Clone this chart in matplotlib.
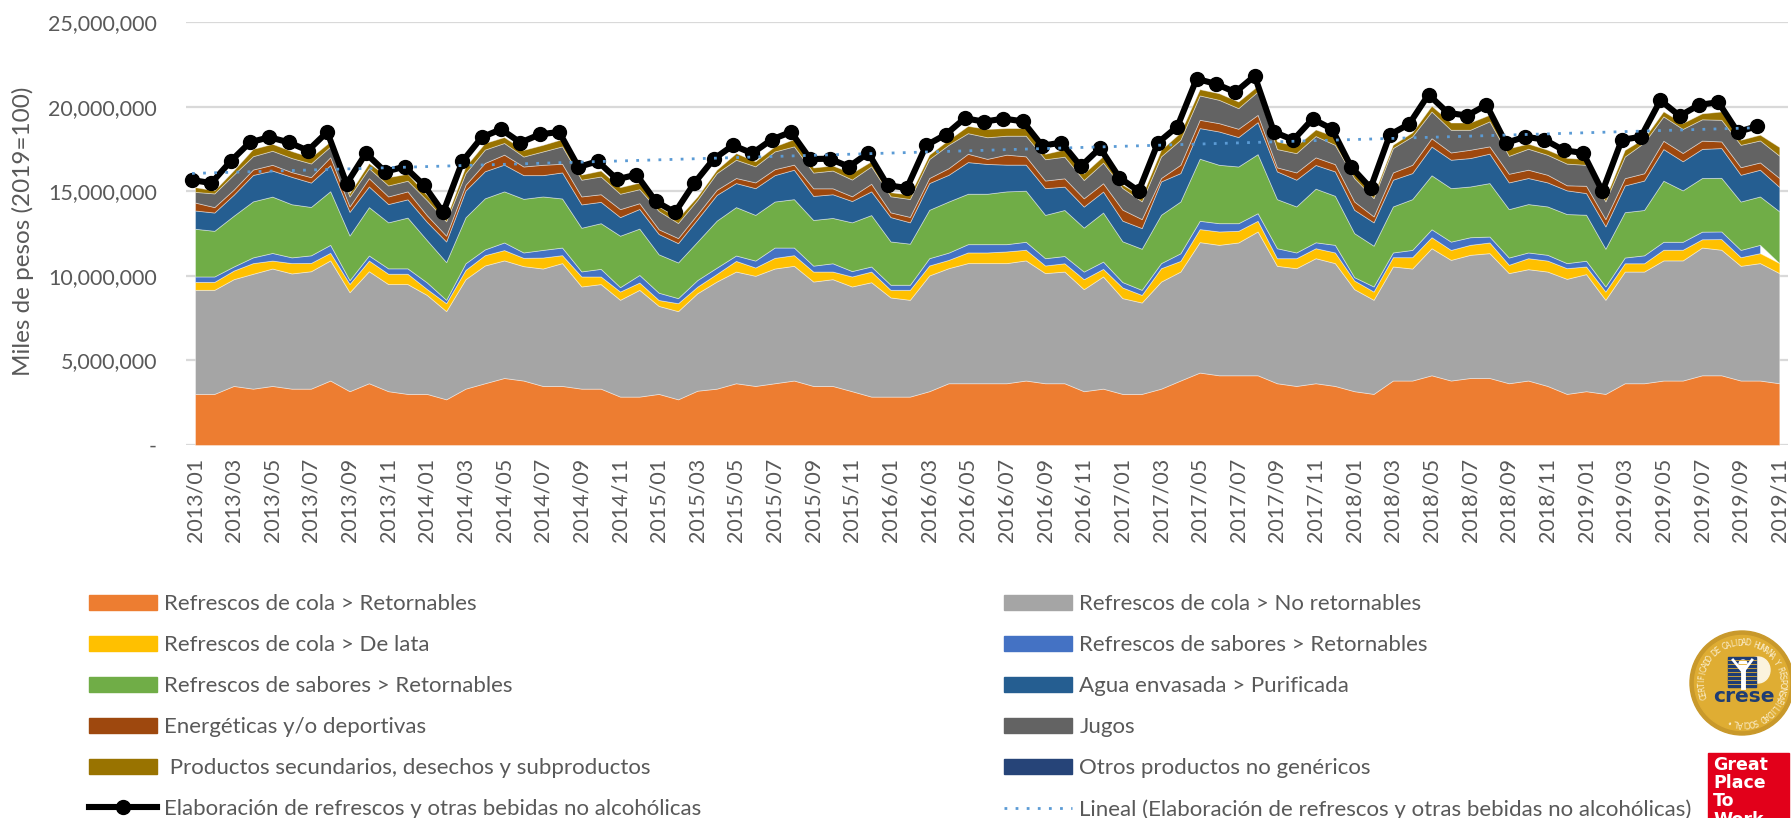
#!/usr/bin/env python
# coding:utf-8
import numpy as np
import matplotlib
matplotlib.use("Agg")
import matplotlib.pyplot as plt
from matplotlib.patches import Circle, Rectangle, Ellipse
from matplotlib.lines import Line2D

# monthly values, millions of pesos
years = range(2013, 2020)
months = [f"{y}/{m:02d}" for y in years for m in range(1, 13)][:83]

cola_ret = [3.02,3.02,3.49,3.33,3.49,3.33,3.33,3.81,3.18,3.65,3.18,3.02,3.02,2.70,3.33,3.65,3.96,3.81,3.49,3.49,3.33,3.33,2.86,2.86,3.02,2.70,
            3.21,3.33,3.65,3.49,3.65,3.81,3.49,3.49,3.18,2.86,2.86,2.86,3.18,3.65,3.65,3.65,3.65,3.81,3.65,3.65,3.18,3.33,3.02,3.02,3.33,3.81,4.28,4.12,
            4.12,4.12,3.65,3.49,3.65,3.49,3.18,3.02,3.81,3.81,4.12,3.81,3.96,3.96,3.65,3.81,3.49,3.02,3.18,3.02,3.65,3.65,3.81,3.81,4.12,4.12,3.81,3.81,3.65]
cola_no_ret = [6.15,6.15,6.31,6.79,6.94,6.81,6.94,7.10,5.85,6.62,6.33,6.49,5.85,5.21,6.47,6.96,6.95,6.76,6.94,7.26,6.04,6.18,5.72,6.31,5.20,5.21,
               5.76,6.33,6.60,6.51,6.78,6.78,6.17,6.31,6.19,6.76,5.86,5.72,6.84,6.80,7.10,7.10,7.10,7.10,6.51,6.60,6.03,6.63,5.66,5.40,6.33,6.44,7.71,7.71,
               7.85,8.50,6.94,6.96,7.39,7.26,6.03,5.56,6.74,6.62,7.51,7.13,7.28,7.38,6.51,6.58,6.76,6.80,6.92,5.56,6.60,6.60,7.10,7.10,7.55,7.42,6.78,6.94,6.51]
cola_lata = [.47,.47,.51,.63,.47,.61,.49,.45,.49,.63,.61,.61,.35,.47,.55,.61,.61,.49,.65,.47,.59,.45,.49,.43,.35,.47,.39,.45,.63,.49,.63,.63,.59,.45,.59,.63,.45,.59,.59,.49,.63,.63,
             .69,.63,.45,.49,.59,.45,.63,.45,.79,.63,.77,.79,.69,.63,.45,.59,.59,.63,.51,.49,.55,.67,.65,.59,.59,.63,.49,.65,.65,.63,.45,.49,.49,.49,.63,.63,.49,.63,.51,.59,.59]
sabores_ret_a = [.32,.32,.24,.34,.45,.34,.45,.47,.22,.30,.32,.32,.39,.20,.39,.34,.45,.32,.45,.45,.30,.45,.26,.45,.43,.30,.39,.37,.32,.41,.61,.45,.35,.49,.32,.30,.30,.30,.43,.43,.49,.49,
                 .43,.47,.43,.43,.45,.43,.32,.30,.30,.45,.49,.49,.45,.45,.59,.34,.35,.45,.20,.30,.28,.43,.47,.49,.45,.35,.43,.34,.34,.30,.34,.30,.34,.47,.47,.47,.45,.45,.43,.49,np.nan]
sabores_ret_b = [2.82,2.70,3.00,3.31,3.33,3.14,2.86,3.17,2.64,2.86,2.72,3.00,2.50,2.23,2.72,3.02,3.02,3.17,3.16,2.90,2.58,2.70,3.04,2.74,2.27,2.11,2.27,2.78,2.86,2.70,2.72,2.86,2.70,2.68,2.88,3.04,2.56,2.43,2.86,3.02,2.98,2.98,
                 3.12,3.02,2.56,2.72,2.60,2.90,2.41,2.43,2.86,3.06,3.67,3.45,3.35,3.49,2.90,2.72,3.17,2.90,2.60,2.41,2.72,3.00,3.19,3.16,3.00,3.16,2.86,2.86,2.86,2.90,2.72,2.23,2.68,2.68,3.61,3.04,3.17,3.17,2.86,2.86,3.06]
agua = [1.08,1.08,1.24,1.56,1.54,1.62,1.44,1.54,1.40,1.22,1.08,1.08,1.08,1.22,1.58,1.60,1.58,1.40,1.26,1.54,1.38,1.26,1.10,1.16,1.20,1.14,1.32,1.52,1.42,1.58,1.56,1.74,1.42,1.40,1.26,1.40,1.44,1.26,1.58,1.58,1.87,1.76,
        1.58,1.54,1.58,1.38,1.24,1.24,1.22,1.22,1.97,1.68,1.81,1.97,1.74,1.89,1.64,1.58,1.40,1.44,1.38,1.38,1.58,1.54,1.70,1.68,1.68,1.74,1.58,1.54,1.42,1.40,1.28,1.32,1.58,1.74,1.87,1.72,1.72,1.76,1.58,1.58,1.44]
energeticas = [.47,.32,.30,.32,.34,.28,.32,.47,.32,.49,.45,.47,.39,.34,.34,.49,.59,.51,.61,.51,.47,.45,.47,.34,.28,.30,.30,.30,.30,.34,.35,.30,.45,.35,.28,.45,.28,.32,.30,.39,.49,.30,
               .59,.49,.45,.49,.49,.49,.65,.53,.20,.49,.49,.49,.49,.43,.24,.43,.45,.43,.49,.35,.43,.49,.49,.43,.49,.43,.51,.49,.45,.30,.43,.43,.43,.43,.49,.49,.49,.39,.45,.43,.53]
jugos = [.63,.81,.89,.79,.83,.83,.81,.63,.59,.59,.65,.63,.89,.85,.69,.79,.69,.59,.79,1.03,.99,1.05,.91,.83,1.08,.89,.85,.99,1.08,.95,1.05,1.08,.93,1.05,.99,1.03,.95,1.06,1.12,1.38,1.22,1.28,
         1.12,1.22,1.26,1.28,1.08,1.22,1.28,1.05,1.28,1.48,1.44,1.38,1.22,1.38,1.08,1.14,1.26,1.14,1.38,1.08,1.44,1.68,1.58,1.34,1.18,1.48,1.06,1.24,1.18,1.28,1.24,1.05,1.28,1.81,1.44,1.42,1.26,1.28,1.32,1.30,1.32]
secundarios = [.28,.18,.26,.43,.41,.41,.37,.30,.20,.30,.49,.41,.30,.20,.39,.39,.35,.39,.39,.43,.30,.35,.39,.39,.26,.30,.20,.20,.39,.30,.30,.43,.30,.30,.39,.30,.24,.26,.26,.30,.43,.49,
               .45,.45,.32,.43,.39,.39,.20,.30,.39,.43,.37,.39,.39,.34,.45,.43,.39,.49,.30,.20,.20,.24,.34,.43,.43,.39,.45,.30,.30,.34,.34,.20,.39,.26,.30,.35,.35,.49,.30,.34,.51]
# line stops one month before the areas
total = [15.66,15.48,16.77,17.89,18.19,17.89,17.40,18.50,15.44,17.24,16.15,16.45,15.36,13.75,16.77,18.19,18.66,17.87,18.36,18.50,16.43,16.77,15.70,15.98,14.40,13.75,15.48,
         16.90,17.71,17.24,18.05,18.50,16.90,16.92,16.45,17.26,15.35,15.19,17.71,18.34,19.31,19.11,19.29,19.13,17.69,17.87,16.47,17.55,15.80,15.01,17.87,18.82,21.64,21.34,20.85,21.81,
         18.50,18.03,19.27,18.68,16.43,15.19,18.34,18.97,20.71,19.63,19.47,20.10,17.85,18.22,18.05,17.42,17.26,14.99,18.03,18.22,20.37,19.45,20.10,20.26,18.50,18.84]
# trend line ends as they read on the picture
trend_ends = [16.05, 18.75]

series = [cola_ret, cola_no_ret, cola_lata, sabores_ret_a, sabores_ret_b, agua, energeticas, jugos, secundarios]
colors = ["#ED7D31", "#A5A5A5", "#FFC000", "#4472C4", "#70AD47", "#255E91", "#9E480E", "#636363", "#997300"]
left_labels = ["Refrescos de cola > Retornables", "Refrescos de cola > De lata", "Refrescos de sabores > Retornables",
               "Energéticas y/o deportivas", " Productos secundarios, desechos y subproductos",
               "Elaboración de refrescos y otras bebidas no alcohólicas"]
right_labels = ["Refrescos de cola > No retornables", "Refrescos de sabores > Retornables", "Agua envasada > Purificada",
                "Jugos", "Otros productos no genéricos", "Lineal (Elaboración de refrescos y otras bebidas no alcohólicas)"]

plt.rcParams['font.family'] = ['Lato', 'DejaVu Sans']
GREY = "#595959"

fig = plt.figure(figsize=(17.91, 8.18), dpi=100)
ax = fig.add_axes([186/1791, 1-445/818, 1602/1791, 423/818])

x = np.arange(len(months))
bottom = np.zeros(len(months))
for vals, col in zip(series, colors):
    v = np.array(vals) * 1e6
    top = bottom + np.nan_to_num(v)
    # a blank month leaves a gap in its own band only
    ax.fill_between(x, bottom, np.where(np.isnan(v), np.nan, top), color=col, lw=0.6,
                    edgecolor=(1, 1, 1, 0.45), zorder=2)
    bottom = top

# the line sits a touch left of the areas in the original
x_line = np.arange(len(total)) - 0.155
y_line = np.array(total) * 1e6
ax.plot([x_line[0], x_line[-1]], np.array(trend_ends) * 1e6, color="#5B9BD5", lw=2, ls=(0, (1, 3)), zorder=4)
ax.plot(x_line, y_line, color="black", lw=4.4, marker="o", ms=10, zorder=3,
        solid_joinstyle="round", clip_on=False)

ax.set_xlim(-0.466, 82.45)
ax.set_ylim(0, 25e6)
ax.set_yticks(np.arange(0, 26e6, 5e6))
ax.set_yticklabels(["-"] + [f"{int(v):,}" for v in np.arange(5e6, 26e6, 5e6)])
ax.set_xticks(x[::2])
ax.set_xticklabels(months[::2], rotation=90)
ax.tick_params(axis="y", length=0, pad=21, labelsize=15.5, labelcolor=GREY)
ax.tick_params(axis="x", length=0, pad=9, labelsize=15.5, labelcolor=GREY)
ax.grid(axis="y", color="#D9D9D9", lw=1.6, zorder=0)
ax.set_axisbelow(True)
for s in ax.spines.values():
    s.set_visible(False)
ax.patch.set_alpha(0)
fig.text(23/1791, 1-231/818, "Miles de pesos (2019=100)", rotation=90, ha="center", va="center",
         fontsize=17.5, color=GREY)

# legend, first column then second
handles = [Rectangle((0, 0), 1, 1, color=c) for c in ["#ED7D31", "#FFC000", "#70AD47", "#9E480E", "#997300"]]
handles.append(Line2D([], [], color="black", lw=4.4, marker="o", ms=10))
handles += [Rectangle((0, 0), 1, 1, color=c) for c in ["#A5A5A5", "#4472C4", "#255E91", "#636363", "#264478"]]
handles.append(Line2D([], [], color="#5B9BD5", lw=2, ls=(0, (1, 3))))
fig.legend(handles, left_labels + right_labels, ncols=2, frameon=False, fontsize=16, labelcolor=GREY,
           loc="upper left", bbox_to_anchor=(89/1791, 1-594.5/818), handlelength=3.06, handleheight=0.65,
           handletextpad=0.31, labelspacing=0.94, columnspacing=13.65, borderpad=0, borderaxespad=0)

# logos, in figure pixels
deco = fig.add_axes([0, 0, 1, 1], zorder=5)
deco.set_xlim(0, 1791)
deco.set_ylim(818, 0)
deco.axis("off")

cx, cy = 1742, 683
deco.add_patch(Circle((cx, cy), 52, color="#C9992B"))
deco.add_patch(Circle((cx, cy), 47.5, color="#DFAD33"))
ring = "CERTIFICADO DE CALIDAD HUMANA Y RESPONSABILIDAD SOCIAL •"
for ch, ang in zip(ring, np.linspace(200, -110, len(ring))):
    a = np.radians(ang)
    deco.text(cx + 40*np.cos(a), cy - 40*np.sin(a), ch, rotation=ang-90, rotation_mode="anchor",
              ha="center", va="center", fontsize=5.6, color="#FBEFD0", family="DejaVu Sans")
deco.add_patch(Ellipse((1758, 670), 24, 26, color="#FBF3DD"))
deco.add_patch(Rectangle((1728, 657), 28, 30, color="#1F3D73"))
for yy in range(660, 687, 4):
    deco.plot([1728, 1756], [yy, yy], color="#DFAD33", lw=0.6)
deco.add_patch(Circle((1743, 664), 4, color="white"))
deco.plot([1733, 1743, 1752], [660, 672, 660], color="white", lw=2)
deco.plot([1743, 1743], [670, 687], color="white", lw=3.5)
deco.text(1744, 696, "crese", ha="center", va="center", fontsize=14.5, fontweight="bold",
          color="#1F3D73", family="DejaVu Sans")

deco.add_patch(Rectangle((1708, 753), 81, 70, color="#E2001A"))
for word, yy in zip(["Great", "Place", "To", "Work"], [765, 783, 801, 820]):
    deco.text(1713, yy, word, ha="left", va="center", fontsize=12.5, fontweight="bold", color="white",
              family="DejaVu Sans", clip_on=False)

fig.savefig("out.png", dpi=100)
